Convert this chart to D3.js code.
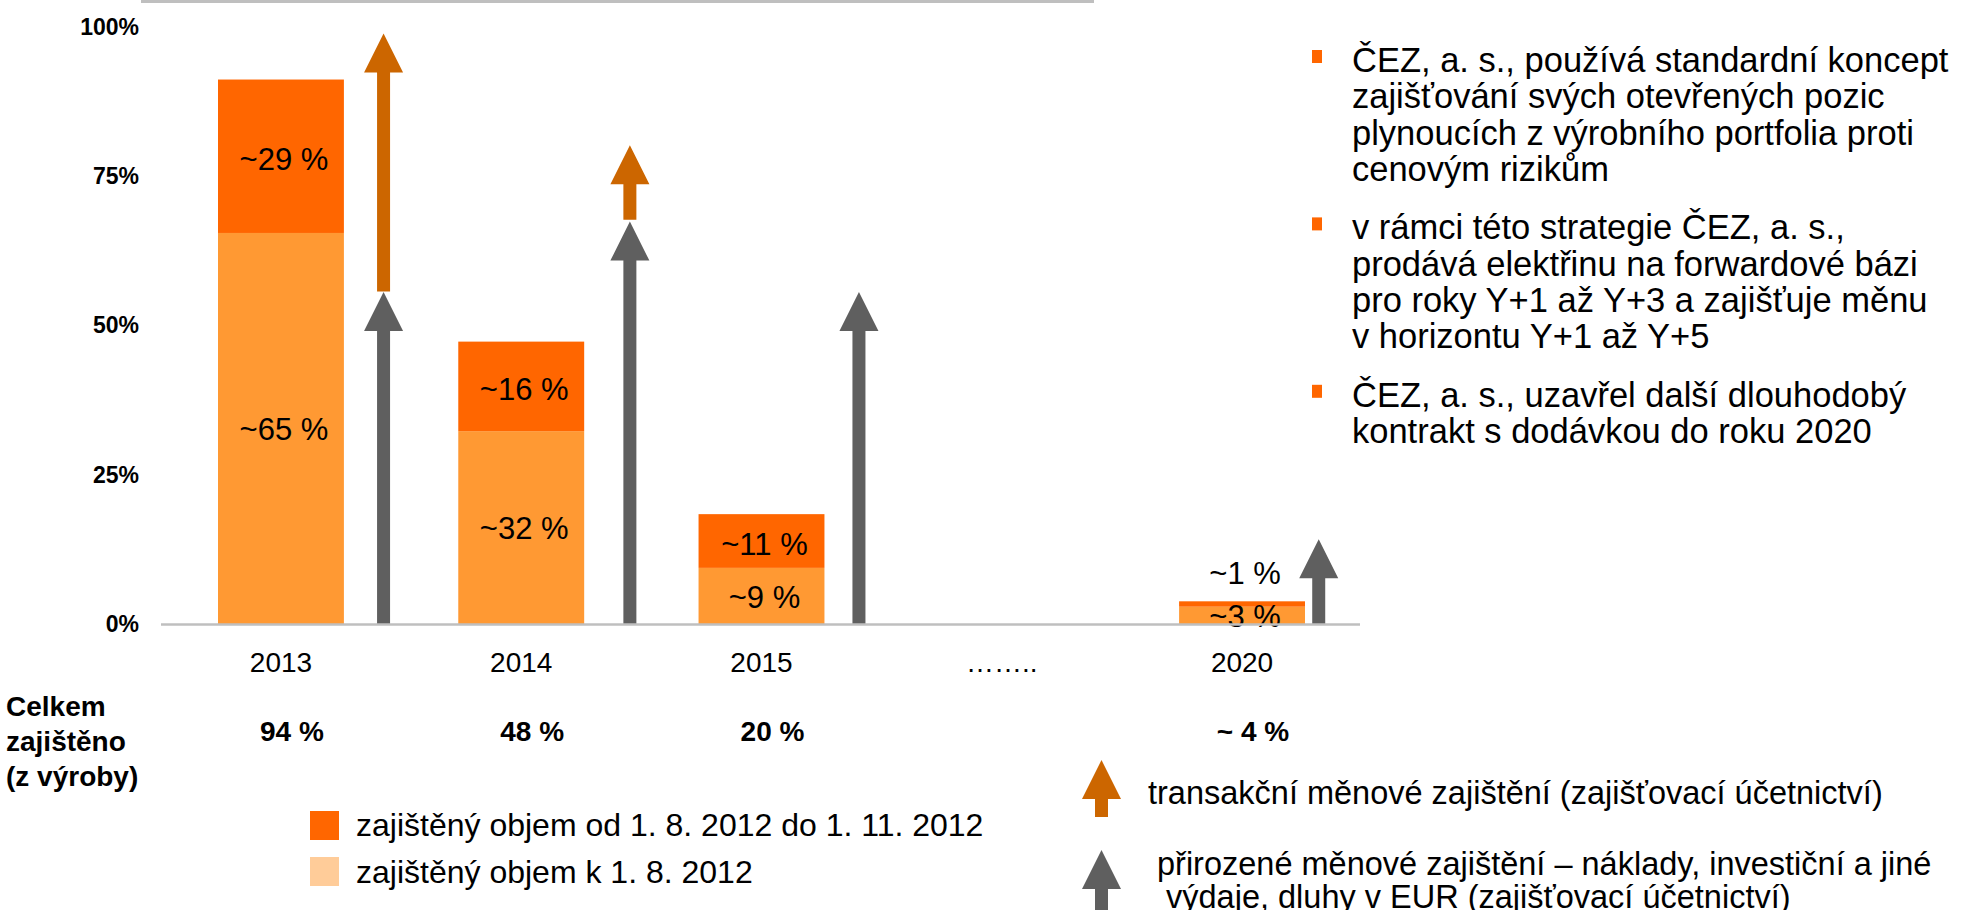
<!DOCTYPE html>
<html lang="cs">
<head>
    <meta charset="UTF-8">
    <title>Zajištění ČEZ</title>
    <script src="https://d3js.org/d3.v7.min.js"></script>
    <style>
        body { margin: 0; background: #fff; }
        svg { display: block; font-family: "Liberation Sans", Arial, sans-serif; }
    </style>
</head>
<body>
    <svg id="chart" width="1961" height="910"></svg>
    <script>
        // data
        var axisLabels = ["2013", "2014", "2015", "……..", "2020"];
        var years = ["2013", "2014", "2015", "2020"];
        var hedgedBefore = [65.5, 32.3, 9.4, 2.9];   // zajištěný objem k 1. 8. 2012
        var hedgedAdded = [25.7, 15.0, 9.0, 0.9];    // od 1. 8. 2012 do 1. 11. 2012
        var beforeLabels = ["~65 %", "~32 %", "~9 %", "~3 %"];
        var addedLabels = ["~29 %", "~16 %", "~11 %", "~1 %"];
        var totalLabels = ["94 %", "48 %", "20 %", "~ 4 %"];
        var naturalHedge = [55.6, 67.4, 55.6, 14.2];      // grey arrows from 0
        var transactionFrom = [55.7, 67.7, null, null];  // orange arrows
        var transactionTo = [98.9, 80.2, null, null];
        var yTicks = [0, 25, 50, 75, 100];

        var bullets = [
            ["ČEZ, a. s., používá standardní koncept", "zajišťování svých otevřených pozic", "plynoucích z výrobního portfolia proti", "cenovým rizikům"],
            ["v rámci této strategie ČEZ, a. s.,", "prodává elektřinu na forwardové bázi", "pro roky Y+1 až Y+3 a zajišťuje měnu", "v horizontu Y+1 až Y+5"],
            ["ČEZ, a. s., uzavřel další dlouhodobý", "kontrakt s dodávkou do roku 2020"]
        ];
        var barLegend = ["zajištěný objem od 1. 8. 2012 do 1. 11. 2012", "zajištěný objem k 1. 8. 2012"];
        var arrowLegend = [["transakční měnové zajištění (zajišťovací účetnictví)"],
            ["přirozené měnové zajištění – náklady, investiční a jiné", " výdaje, dluhy v EUR (zajišťovací účetnictví)"]];
        var rowTitle = ["Celkem", "zajištěno", "(z výroby)"];

        // layout / style
        var cDark = "#FF6600", cLight = "#FF9933", cLightKey = "#FFCC99";
        var cArrowOrange = "#CC6600", cArrowGrey = "#5F5F5F", cLine = "#BFBFBF";
        var arrowShift = [0.815, 0.863, 0.774, 0.609]; // arrow offset from bar centre, in bandwidths
        var shaftW = 13, headW = 39, headH = 39;

        var svg = d3.select("#chart");

        var y = d3.scaleLinear().domain([0, 100]).range([624, 27]);
        var x = d3.scaleBand().domain(axisLabels).range([218, 1305]).paddingInner(0.476).paddingOuter(0);

        function arrowPath(cx, yTip, yBase) {
            return "M" + cx + "," + yTip +
                "L" + (cx + headW / 2) + "," + (yTip + headH) +
                "L" + (cx + shaftW / 2) + "," + (yTip + headH) +
                "L" + (cx + shaftW / 2) + "," + yBase +
                "L" + (cx - shaftW / 2) + "," + yBase +
                "L" + (cx - shaftW / 2) + "," + (yTip + headH) +
                "L" + (cx - headW / 2) + "," + (yTip + headH) + "Z";
        }

        // top rule of the slide
        svg.append("line")
            .attr("x1", 141).attr("x2", 1094)
            .attr("y1", 1.5).attr("y2", 1.5)
            .attr("stroke", cLine).attr("stroke-width", 3);

        // y axis labels
        var yAxis = svg.append("g")
            .attr("transform", "translate(161,0)")
            .call(d3.axisLeft(y).tickValues(yTicks).tickFormat(function(d) { return d + "%"; }).tickSize(0).tickPadding(22));
        yAxis.select(".domain").remove();
        yAxis.selectAll("text")
            .attr("font-family", "Liberation Sans, Arial, sans-serif")
            .attr("font-size", 23).attr("font-weight", "bold").attr("fill", "#000");

        // x axis labels
        var xAxis = svg.append("g")
            .attr("transform", "translate(0," + y(0) + ")")
            .call(d3.axisBottom(x).tickSize(0).tickPadding(28));
        xAxis.select(".domain").remove();
        xAxis.selectAll("text")
            .attr("font-family", "Liberation Sans, Arial, sans-serif")
            .attr("font-size", 28).attr("fill", "#000");

        var rows = years.map(function(yr, i) {
            return { year: yr, before: hedgedBefore[i], added: hedgedAdded[i], i: i };
        });

        // stacked bars
        var bars = svg.append("g");
        bars.selectAll(".light").data(rows).enter().append("rect")
            .attr("x", function(d) { return x(d.year); })
            .attr("width", x.bandwidth())
            .attr("y", function(d) { return y(d.before); })
            .attr("height", function(d) { return y(0) - y(d.before); })
            .attr("fill", cLight);
        bars.selectAll(".dark").data(rows).enter().append("rect")
            .attr("x", function(d) { return x(d.year); })
            .attr("width", x.bandwidth())
            .attr("y", function(d) { return y(d.before + d.added); })
            .attr("height", function(d) { return y(d.before) - y(d.before + d.added); })
            .attr("fill", cDark);

        // bar labels
        var labels = svg.append("g")
            .attr("font-size", 31).attr("text-anchor", "middle").attr("fill", "#000");
        labels.selectAll(".lb").data(rows).enter().append("text")
            .attr("x", function(d) { return x(d.year) + x.bandwidth() / 2 + 3; })
            .attr("y", function(d) { return (y(0) + y(d.before)) / 2 + 1; })
            .attr("dy", "0.35em")
            .text(function(d) { return beforeLabels[d.i]; });
        labels.selectAll(".la").data(rows).enter().append("text")
            .attr("x", function(d) { return x(d.year) + x.bandwidth() / 2 + 3; })
            .attr("y", function(d) {
                var top = y(d.before + d.added), bot = y(d.before);
                return (bot - top) < 30 ? top - 28 : (top + bot) / 2 + 3;
            })
            .attr("dy", "0.35em")
            .text(function(d) { return addedLabels[d.i]; });

        // hedge arrows
        var arrows = svg.append("g");
        rows.forEach(function(d) {
            var cx = x(d.year) + x.bandwidth() / 2 + arrowShift[d.i] * x.bandwidth();
            arrows.append("path")
                .attr("d", arrowPath(cx, y(naturalHedge[d.i]), y(0)))
                .attr("fill", cArrowGrey);
            if (transactionTo[d.i] != null) {
                arrows.append("path")
                    .attr("d", arrowPath(cx, y(transactionTo[d.i]), y(transactionFrom[d.i])))
                    .attr("fill", cArrowOrange);
            }
        });

        // baseline
        svg.append("line")
            .attr("x1", 161).attr("x2", 1360)
            .attr("y1", y(0) + 0.5).attr("y2", y(0) + 0.5)
            .attr("stroke", cLine).attr("stroke-width", 2.5);

        // totals row
        svg.append("g").selectAll("text").data(rows).enter().append("text")
            .attr("x", function(d) { return x(d.year) + x.bandwidth() / 2 + 11; })
            .attr("y", 731).attr("dy", "0.35em")
            .attr("text-anchor", "middle")
            .attr("font-size", 28).attr("font-weight", "bold")
            .text(function(d) { return totalLabels[d.i]; });

        svg.append("g").selectAll("text").data(rowTitle).enter().append("text")
            .attr("x", 6).attr("y", function(d, i) { return 706 + i * 35; })
            .attr("dy", "0.35em")
            .attr("font-size", 28).attr("font-weight", "bold")
            .text(function(d) { return d; });

        // bar legend
        var barKey = svg.append("g");
        barLegend.forEach(function(t, i) {
            barKey.append("rect")
                .attr("x", 310).attr("y", 811 + i * 46)
                .attr("width", 29).attr("height", 29)
                .attr("fill", i === 0 ? cDark : cLightKey);
            barKey.append("text")
                .attr("x", 356).attr("y", 825 + i * 47).attr("dy", "0.35em")
                .attr("font-size", 32)
                .text(t);
        });

        // arrow legend
        var arrowKey = svg.append("g");
        arrowKey.append("path").attr("d", arrowPath(1101.5, 760, 817)).attr("fill", cArrowOrange);
        arrowKey.append("path").attr("d", arrowPath(1101.5, 850, 930)).attr("fill", cArrowGrey);
        arrowKey.append("text").attr("x", 1148).attr("y", 793).attr("dy", "0.35em")
            .attr("font-size", 32.5).text(arrowLegend[0][0]);
        arrowKey.selectAll(".l2").data(arrowLegend[1]).enter().append("text")
            .attr("x", 1157).attr("y", function(d, i) { return 864 + i * 33; })
            .attr("dy", "0.35em")
            .attr("font-size", 32.5)
            .attr("xml:space", "preserve")
            .style("white-space", "pre")
            .text(function(d) { return d; });

        // bullet text
        var bulletG = svg.append("g");
        var lineY = 60;
        bullets.forEach(function(lines, b) {
            bulletG.append("rect")
                .attr("x", 1312).attr("y", lineY - 10)
                .attr("width", 10).attr("height", 13)
                .attr("fill", cDark);
            lines.forEach(function(t, j) {
                bulletG.append("text")
                    .attr("x", 1352).attr("y", lineY + j * 36.3).attr("dy", "0.35em")
                    .attr("font-size", 34.5)
                    .text(t);
            });
            lineY += (lines.length - 1) * 36.3 + 58.5;
        });
    </script>
</body>
</html>
